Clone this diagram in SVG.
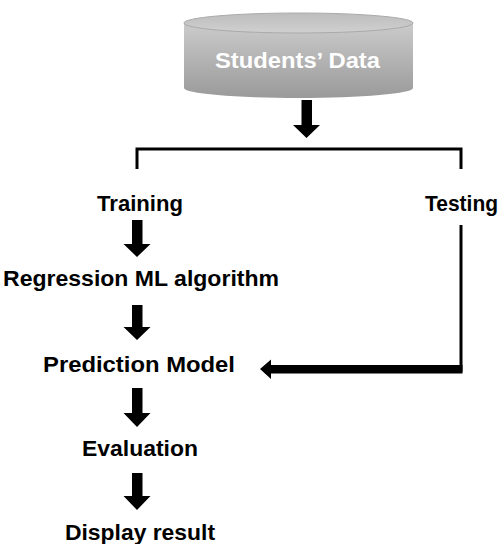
<svg xmlns="http://www.w3.org/2000/svg" width="501" height="544" viewBox="0 0 501 544">
<defs>
<linearGradient id="body" x1="0" y1="0" x2="0" y2="1">
<stop offset="0" stop-color="#cbcbcb"/>
<stop offset="1" stop-color="#9a9a9a"/>
</linearGradient>
<linearGradient id="top" x1="0" y1="0" x2="0" y2="1">
<stop offset="0" stop-color="#bdbdbd"/>
<stop offset="1" stop-color="#d0d0d0"/>
</linearGradient>
</defs>
<style>
.t{font-family:"Liberation Sans",Arial,sans-serif;font-weight:bold;font-size:22px;fill:#000;text-anchor:middle}
.w{fill:#fff}
.ln{fill:none;stroke:#000;stroke-width:3}
.ar{fill:#000}
</style>
<rect width="501" height="544" fill="#fff"/>
<g id="students-data">
<path d="M184,23 V88 A114.5,10 0 0 0 413,88 V23 Z" fill="url(#body)"/>
<ellipse cx="298.5" cy="23" rx="114.5" ry="10" fill="url(#top)" stroke="#aaaaaa" stroke-width="1"/>
<text class="t w" x="297.5" y="68" textLength="165" lengthAdjust="spacingAndGlyphs">Students’ Data</text>
</g>
<g id="training"><text class="t" x="140" y="211" textLength="86" lengthAdjust="spacingAndGlyphs">Training</text></g>
<g id="testing"><text class="t" x="461.5" y="211" textLength="73" lengthAdjust="spacingAndGlyphs">Testing</text></g>
<g id="regression"><text class="t" x="141" y="286" textLength="276" lengthAdjust="spacingAndGlyphs">Regression ML algorithm</text></g>
<g id="prediction"><text class="t" x="139" y="372" textLength="192" lengthAdjust="spacingAndGlyphs">Prediction Model</text></g>
<g id="evaluation"><text class="t" x="140" y="456" textLength="116" lengthAdjust="spacingAndGlyphs">Evaluation</text></g>
<g id="display"><text class="t" x="140" y="540" textLength="150" lengthAdjust="spacingAndGlyphs">Display result</text></g>
<g id="connectors">
<path class="ln" d="M137,169 V149 H461 V169"/>
<path class="ln" d="M461,225 V372"/>
<path class="ar" d="M301.5,100 H312 V125 H320 L306.5,138 L293,125 H301.5 Z"/>
<path class="ar" d="M132,220 H142.5 V244 H150.5 L137,257 L123.5,244 H132 Z"/>
<path class="ar" d="M132,305 H142.5 V327 H150.5 L137,340 L123.5,327 H132 Z"/>
<path class="ar" d="M132,388 H142.5 V413 H150.5 L137,427 L123.5,413 H132 Z"/>
<path class="ar" d="M132,473 H142.5 V496 H150.5 L137,510 L123.5,496 H132 Z"/>
<path class="ar" d="M462.5,365 V373.5 H271 V379 L260,369 L271,359.5 V365 Z"/>
</g>
</svg>
